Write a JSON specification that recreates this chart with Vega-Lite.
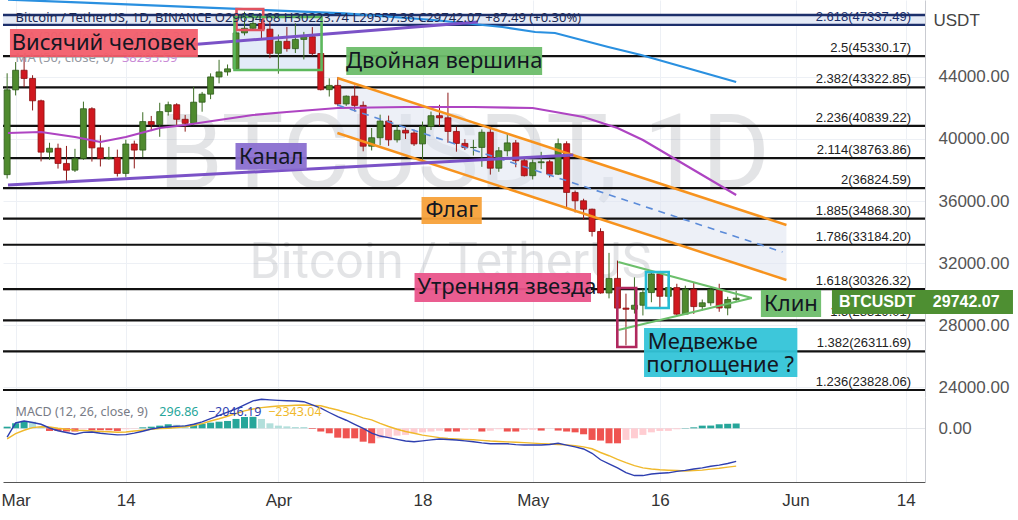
{
"$schema": "https://vega.github.io/schema/vega-lite/v6.json",
"background": "#ffffff",
"padding": 0,
"spacing": 0,
"bounds": "flush",
"config": {"view": {"stroke": null}, "font": "Noto Sans"},
"datasets": {
"candles": [
{"date":"2022-02-28","open":37699,"high":44225,"low":37450,"close":43160},
{"date":"2022-03-01","open":43160,"high":44950,"low":42800,"close":44421},
{"date":"2022-03-02","open":44421,"high":45400,"low":43330,"close":43892},
{"date":"2022-03-03","open":43892,"high":44100,"low":41832,"close":42454},
{"date":"2022-03-04","open":42454,"high":42527,"low":38550,"close":39148},
{"date":"2022-03-05","open":39148,"high":39750,"low":38650,"close":39397},
{"date":"2022-03-06","open":39397,"high":39693,"low":38088,"close":38420},
{"date":"2022-03-07","open":38420,"high":39547,"low":37155,"close":37988},
{"date":"2022-03-08","open":37988,"high":39362,"low":37867,"close":38730},
{"date":"2022-03-09","open":38730,"high":42400,"low":38650,"close":41942},
{"date":"2022-03-10","open":41942,"high":42040,"low":38540,"close":39422},
{"date":"2022-03-11","open":39422,"high":40236,"low":38224,"close":38730},
{"date":"2022-03-12","open":38730,"high":39486,"low":38660,"close":38807},
{"date":"2022-03-13","open":38807,"high":39310,"low":37578,"close":37777},
{"date":"2022-03-14","open":37777,"high":39947,"low":37555,"close":39671},
{"date":"2022-03-15","open":39671,"high":39887,"low":38098,"close":39280},
{"date":"2022-03-16","open":39280,"high":41718,"low":38828,"close":41114},
{"date":"2022-03-17","open":41114,"high":41478,"low":40500,"close":40917},
{"date":"2022-03-18","open":40917,"high":42325,"low":40135,"close":41757},
{"date":"2022-03-19","open":41757,"high":42400,"low":41499,"close":42201},
{"date":"2022-03-20","open":42201,"high":42296,"low":40911,"close":41262},
{"date":"2022-03-21","open":41262,"high":41544,"low":40467,"close":41002},
{"date":"2022-03-22","open":41002,"high":43361,"low":40875,"close":42364},
{"date":"2022-03-23","open":42364,"high":43025,"low":41751,"close":42882},
{"date":"2022-03-24","open":42882,"high":44220,"low":42560,"close":43991},
{"date":"2022-03-25","open":43991,"high":45094,"low":43579,"close":44313},
{"date":"2022-03-26","open":44313,"high":44792,"low":44071,"close":44511},
{"date":"2022-03-27","open":44511,"high":46999,"low":44421,"close":46827},
{"date":"2022-03-28","open":46827,"high":48189,"low":46663,"close":47122},
{"date":"2022-03-29","open":47122,"high":48096,"low":46950,"close":47434},
{"date":"2022-03-30","open":47434,"high":47700,"low":46445,"close":47067},
{"date":"2022-03-31","open":47067,"high":47600,"low":45200,"close":45510},
{"date":"2022-04-01","open":45510,"high":46720,"low":44200,"close":46283},
{"date":"2022-04-02","open":46283,"high":47213,"low":45620,"close":45811},
{"date":"2022-04-03","open":45811,"high":47444,"low":45530,"close":46407},
{"date":"2022-04-04","open":46407,"high":46890,"low":45118,"close":46580},
{"date":"2022-04-05","open":46580,"high":47200,"low":45353,"close":45498},
{"date":"2022-04-06","open":45498,"high":45507,"low":43121,"close":43170},
{"date":"2022-04-07","open":43170,"high":43900,"low":42727,"close":43445},
{"date":"2022-04-08","open":43445,"high":43970,"low":42107,"close":42252},
{"date":"2022-04-09","open":42252,"high":42800,"low":42125,"close":42753},
{"date":"2022-04-10","open":42753,"high":43433,"low":41768,"close":42158},
{"date":"2022-04-11","open":42158,"high":42414,"low":39200,"close":39530},
{"date":"2022-04-12","open":39530,"high":40700,"low":39254,"close":40074},
{"date":"2022-04-13","open":40074,"high":41561,"low":39588,"close":41147},
{"date":"2022-04-14","open":41147,"high":41500,"low":39551,"close":39942},
{"date":"2022-04-15","open":39942,"high":40870,"low":39767,"close":40552},
{"date":"2022-04-16","open":40552,"high":40709,"low":39991,"close":40378},
{"date":"2022-04-17","open":40378,"high":40595,"low":39546,"close":39678},
{"date":"2022-04-18","open":39678,"high":41116,"low":38536,"close":40801},
{"date":"2022-04-19","open":40801,"high":41760,"low":40571,"close":41493},
{"date":"2022-04-20","open":41493,"high":42199,"low":40820,"close":41358},
{"date":"2022-04-21","open":41358,"high":42976,"low":39751,"close":40480},
{"date":"2022-04-22","open":40480,"high":40795,"low":39177,"close":39709},
{"date":"2022-04-23","open":39709,"high":39980,"low":39285,"close":39441},
{"date":"2022-04-24","open":39441,"high":39940,"low":38929,"close":39450},
{"date":"2022-04-25","open":39450,"high":40616,"low":38200,"close":40426},
{"date":"2022-04-26","open":40426,"high":40797,"low":37702,"close":38112},
{"date":"2022-04-27","open":38112,"high":39474,"low":37881,"close":39235},
{"date":"2022-04-28","open":39235,"high":40372,"low":38881,"close":39742},
{"date":"2022-04-29","open":39742,"high":39925,"low":38175,"close":38596},
{"date":"2022-04-30","open":38596,"high":38795,"low":37578,"close":37630},
{"date":"2022-05-01","open":37630,"high":38675,"low":37386,"close":38468},
{"date":"2022-05-02","open":38468,"high":39167,"low":38052,"close":38525},
{"date":"2022-05-03","open":38525,"high":38651,"low":37517,"close":37729},
{"date":"2022-05-04","open":37729,"high":40023,"low":37671,"close":39690},
{"date":"2022-05-05","open":39690,"high":39845,"low":35571,"close":36552},
{"date":"2022-05-06","open":36552,"high":36675,"low":35258,"close":36013},
{"date":"2022-05-07","open":36013,"high":36146,"low":34785,"close":35472},
{"date":"2022-05-08","open":35472,"high":35510,"low":33713,"close":34038},
{"date":"2022-05-09","open":34038,"high":34243,"low":30033,"close":30076},
{"date":"2022-05-10","open":30076,"high":32659,"low":29730,"close":31017},
{"date":"2022-05-11","open":31017,"high":32162,"low":27785,"close":29103},
{"date":"2022-05-12","open":29103,"high":30033,"low":26700,"close":29029},
{"date":"2022-05-13","open":29029,"high":31083,"low":28751,"close":29287},
{"date":"2022-05-14","open":29287,"high":30343,"low":28630,"close":30101},
{"date":"2022-05-15","open":30101,"high":31460,"low":29480,"close":31305},
{"date":"2022-05-16","open":31305,"high":31305,"low":29075,"close":29863},
{"date":"2022-05-17","open":29863,"high":31000,"low":29535,"close":30425},
{"date":"2022-05-18","open":30425,"high":30670,"low":28654,"close":28715},
{"date":"2022-05-19","open":28715,"high":30545,"low":28691,"close":30319},
{"date":"2022-05-20","open":30319,"high":30777,"low":28730,"close":29201},
{"date":"2022-05-21","open":29201,"high":29655,"low":28947,"close":29445},
{"date":"2022-05-22","open":29445,"high":30487,"low":29255,"close":30293},
{"date":"2022-05-23","open":30293,"high":30670,"low":28866,"close":29109},
{"date":"2022-05-24","open":29109,"high":29835,"low":28642,"close":29655},
{"date":"2022-05-25","open":29654.68,"high":30223.74,"low":29557.36,"close":29742.07}
],
"macd": [
{"date":"2022-02-28","macd":-540,"signal":-650,"hist":100},
{"date":"2022-03-01","macd":330,"signal":-330,"hist":310},
{"date":"2022-03-02","macd":450,"signal":-120,"hist":455},
{"date":"2022-03-03","macd":360,"signal":40,"hist":400},
{"date":"2022-03-04","macd":250,"signal":95,"hist":100},
{"date":"2022-03-05","macd":20,"signal":80,"hist":-165},
{"date":"2022-03-06","macd":-150,"signal":0,"hist":-165},
{"date":"2022-03-07","macd":-260,"signal":-60,"hist":-200},
{"date":"2022-03-08","macd":-370,"signal":-110,"hist":-200},
{"date":"2022-03-09","macd":-250,"signal":-140,"hist":-60},
{"date":"2022-03-10","macd":-230,"signal":-165,"hist":-120},
{"date":"2022-03-11","macd":-310,"signal":-195,"hist":-120},
{"date":"2022-03-12","macd":-360,"signal":-215,"hist":-120},
{"date":"2022-03-13","macd":-410,"signal":-245,"hist":-165},
{"date":"2022-03-14","macd":-390,"signal":-230,"hist":-60},
{"date":"2022-03-15","macd":-300,"signal":-170,"hist":-30},
{"date":"2022-03-16","macd":-180,"signal":-120,"hist":60},
{"date":"2022-03-17","macd":-40,"signal":-60,"hist":100},
{"date":"2022-03-18","macd":40,"signal":-20,"hist":165},
{"date":"2022-03-19","macd":90,"signal":0,"hist":250},
{"date":"2022-03-20","macd":130,"signal":50,"hist":220},
{"date":"2022-03-21","macd":150,"signal":100,"hist":200},
{"date":"2022-03-22","macd":250,"signal":170,"hist":250},
{"date":"2022-03-23","macd":400,"signal":290,"hist":290},
{"date":"2022-03-24","macd":600,"signal":450,"hist":350},
{"date":"2022-03-25","macd":800,"signal":590,"hist":410},
{"date":"2022-03-26","macd":1000,"signal":750,"hist":455},
{"date":"2022-03-27","macd":1200,"signal":920,"hist":580},
{"date":"2022-03-28","macd":1450,"signal":1080,"hist":700},
{"date":"2022-03-29","macd":1700,"signal":1200,"hist":710},
{"date":"2022-03-30","macd":1800,"signal":1280,"hist":580},
{"date":"2022-03-31","macd":1760,"signal":1340,"hist":310},
{"date":"2022-04-01","macd":1730,"signal":1380,"hist":165},
{"date":"2022-04-02","macd":1710,"signal":1400,"hist":120},
{"date":"2022-04-03","macd":1690,"signal":1430,"hist":80},
{"date":"2022-04-04","macd":1650,"signal":1445,"hist":80},
{"date":"2022-04-05","macd":1450,"signal":1420,"hist":-40},
{"date":"2022-04-06","macd":1250,"signal":1400,"hist":-200},
{"date":"2022-04-07","macd":980,"signal":1260,"hist":-310},
{"date":"2022-04-08","macd":720,"signal":1135,"hist":-580},
{"date":"2022-04-09","macd":500,"signal":980,"hist":-620},
{"date":"2022-04-10","macd":250,"signal":830,"hist":-620},
{"date":"2022-04-11","macd":0,"signal":650,"hist":-830},
{"date":"2022-04-12","macd":-300,"signal":520,"hist":-930},
{"date":"2022-04-13","macd":-480,"signal":300,"hist":-620},
{"date":"2022-04-14","macd":-580,"signal":110,"hist":-580},
{"date":"2022-04-15","macd":-690,"signal":-60,"hist":-455},
{"date":"2022-04-16","macd":-790,"signal":-200,"hist":-410},
{"date":"2022-04-17","macd":-830,"signal":-310,"hist":-310},
{"date":"2022-04-18","macd":-780,"signal":-420,"hist":-250},
{"date":"2022-04-19","macd":-720,"signal":-500,"hist":-200},
{"date":"2022-04-20","macd":-660,"signal":-580,"hist":-150},
{"date":"2022-04-21","macd":-690,"signal":-630,"hist":-200},
{"date":"2022-04-22","macd":-725,"signal":-663,"hist":-200},
{"date":"2022-04-23","macd":-780,"signal":-690,"hist":-100},
{"date":"2022-04-24","macd":-830,"signal":-707,"hist":-90},
{"date":"2022-04-25","macd":-900,"signal":-750,"hist":-200},
{"date":"2022-04-26","macd":-955,"signal":-790,"hist":-150},
{"date":"2022-04-27","macd":-955,"signal":-815,"hist":-60},
{"date":"2022-04-28","macd":-960,"signal":-840,"hist":-200},
{"date":"2022-04-29","macd":-1010,"signal":-860,"hist":-200},
{"date":"2022-04-30","macd":-1035,"signal":-890,"hist":-100},
{"date":"2022-05-01","macd":-1035,"signal":-920,"hist":-90},
{"date":"2022-05-02","macd":-1035,"signal":-950,"hist":-140},
{"date":"2022-05-03","macd":-1000,"signal":-970,"hist":-20},
{"date":"2022-05-04","macd":-930,"signal":-1000,"hist":-140},
{"date":"2022-05-05","macd":-1040,"signal":-1030,"hist":-200},
{"date":"2022-05-06","macd":-1150,"signal":-1080,"hist":-250},
{"date":"2022-05-07","macd":-1280,"signal":-1150,"hist":-370},
{"date":"2022-05-08","macd":-1550,"signal":-1270,"hist":-720},
{"date":"2022-05-09","macd":-1950,"signal":-1500,"hist":-760},
{"date":"2022-05-10","macd":-2200,"signal":-1700,"hist":-930},
{"date":"2022-05-11","macd":-2450,"signal":-1930,"hist":-930},
{"date":"2022-05-12","macd":-2750,"signal":-2130,"hist":-720},
{"date":"2022-05-13","macd":-2930,"signal":-2310,"hist":-620},
{"date":"2022-05-14","macd":-2930,"signal":-2450,"hist":-410},
{"date":"2022-05-15","macd":-2830,"signal":-2520,"hist":-250},
{"date":"2022-05-16","macd":-2790,"signal":-2570,"hist":-165},
{"date":"2022-05-17","macd":-2760,"signal":-2600,"hist":-160},
{"date":"2022-05-18","macd":-2670,"signal":-2620,"hist":-60},
{"date":"2022-05-19","macd":-2610,"signal":-2645,"hist":20},
{"date":"2022-05-20","macd":-2520,"signal":-2620,"hist":60},
{"date":"2022-05-21","macd":-2450,"signal":-2590,"hist":165},
{"date":"2022-05-22","macd":-2350,"signal":-2530,"hist":170},
{"date":"2022-05-23","macd":-2280,"signal":-2480,"hist":250},
{"date":"2022-05-24","macd":-2180,"signal":-2410,"hist":280},
{"date":"2022-05-25","macd":-2046.19,"signal":-2343.04,"hist":296.86}
],
"fibs": [
{"ratio":2.618,"price":47337.49,"label":"2.618(47337.49)"},
{"ratio":2.5,"price":45330.17,"label":"2.5(45330.17)"},
{"ratio":2.382,"price":43322.85,"label":"2.382(43322.85)"},
{"ratio":2.236,"price":40839.22,"label":"2.236(40839.22)"},
{"ratio":2.114,"price":38763.86,"label":"2.114(38763.86)"},
{"ratio":2,"price":36824.59,"label":"2(36824.59)"},
{"ratio":1.885,"price":34868.30,"label":"1.885(34868.30)"},
{"ratio":1.786,"price":33184.20,"label":"1.786(33184.20)"},
{"ratio":1.618,"price":30326.32,"label":"1.618(30326.32)"},
{"ratio":1.5,"price":28319.01,"label":"1.5(28319.01)"},
{"ratio":1.382,"price":26311.69,"label":"1.382(26311.69)"},
{"ratio":1.236,"price":23828.06,"label":"1.236(23828.06)"}
],
"ma": [
{"ma":"MA 200","date":"2022-02-28T02:26:00Z","value":48970},
{"ma":"MA 200","date":"2022-03-09T02:00:00Z","value":48771},
{"ma":"MA 200","date":"2022-04-08T19:00:00Z","value":48089},
{"ma":"MA 200","date":"2022-04-19T07:00:00Z","value":47657},
{"ma":"MA 200","date":"2022-04-27T10:00:00Z","value":47206},
{"ma":"MA 200","date":"2022-05-01T07:00:00Z","value":46884},
{"ma":"MA 200","date":"2022-05-03T15:00:00Z","value":46820},
{"ma":"MA 200","date":"2022-05-09T22:00:00Z","value":45918},
{"ma":"MA 200","date":"2022-05-13T19:00:00Z","value":45403},
{"ma":"MA 200","date":"2022-05-25T00:00:00Z","value":43664},
{"ma":"MA 50","date":"2022-02-28T02:26:00Z","value":40380},
{"ma":"MA 50","date":"2022-03-04","value":40445},
{"ma":"MA 50","date":"2022-03-08","value":40122},
{"ma":"MA 50","date":"2022-03-11","value":39800},
{"ma":"MA 50","date":"2022-03-14","value":40122},
{"ma":"MA 50","date":"2022-03-18","value":40702},
{"ma":"MA 50","date":"2022-03-21","value":40895},
{"ma":"MA 50","date":"2022-03-25","value":41217},
{"ma":"MA 50","date":"2022-03-29","value":41539},
{"ma":"MA 50","date":"2022-04-02","value":41732},
{"ma":"MA 50","date":"2022-04-08","value":41990},
{"ma":"MA 50","date":"2022-04-16","value":42054},
{"ma":"MA 50","date":"2022-04-24","value":42054},
{"ma":"MA 50","date":"2022-05-01","value":41990},
{"ma":"MA 50","date":"2022-05-07","value":41410},
{"ma":"MA 50","date":"2022-05-11","value":40702},
{"ma":"MA 50","date":"2022-05-14","value":39929},
{"ma":"MA 50","date":"2022-05-25","value":36387}
],
"drawings": [
{"figure":"Канал","side":"верх","date":"2022-03-17T15:00:00Z","price":45892},
{"figure":"Канал","side":"верх","date":"2022-04-24T12:45:00Z","price":47528},
{"figure":"Канал","side":"низ","date":"2022-02-28T02:26:00Z","price":37031},
{"figure":"Канал","side":"низ","date":"2022-05-05T19:00:00Z","price":38963},
{"figure":"Флаг","side":"верх","date":"2022-04-07T23:00:00Z","price":43922},
{"figure":"Флаг","side":"верх","date":"2022-05-30T22:20:00Z","price":34455},
{"figure":"Флаг","side":"низ","date":"2022-04-07T23:00:00Z","price":40380},
{"figure":"Флаг","side":"низ","date":"2022-05-30T22:20:00Z","price":30913},
{"figure":"Середина флага","side":"середина","date":"2022-04-07T23:00:00Z","price":42183},
{"figure":"Середина флага","side":"середина","date":"2022-05-30T11:00:00Z","price":32716},
{"figure":"Клин","side":"верх","date":"2022-05-11T02:20:00Z","price":32072},
{"figure":"Клин","side":"верх","date":"2022-05-26T20:25:00Z","price":29753},
{"figure":"Клин","side":"низ","date":"2022-05-11T02:20:00Z","price":27693},
{"figure":"Клин","side":"низ","date":"2022-05-26T20:25:00Z","price":29753}
],
"flagFill": [
{"date":"2022-04-07T23:00:00Z","top":43922,"bottom":40380},
{"date":"2022-05-30T22:20:00Z","top":34455,"bottom":30913}
],
"boxes": [
{"pattern":"Висячий человек","start":"2022-03-27T01:25:00Z","end":"2022-03-30T05:00:00Z","top":48365,"bottom":47013},
{"pattern":"Двойная вершина","start":"2022-03-26T19:40:00Z","end":"2022-04-06T02:10:00Z","top":47850,"bottom":44437},
{"pattern":"Утренняя звезда","start":"2022-05-10T23:30:00Z","end":"2022-05-13T05:00:00Z","top":30398,"bottom":26598},
{"pattern":"Медвежье поглощение ?","start":"2022-05-14T08:40:00Z","end":"2022-05-17T01:00:00Z","top":31428,"bottom":29110}
],
"notes": [
{"note":"Висячий человек","start":"2022-02-28T08:00:00Z","end":"2022-03-22T12:00:00Z","top":47077,"bottom":45274},
{"note":"Двойная вершина","start":"2022-04-09T00:15:00Z","end":"2022-05-02T02:40:00Z","top":45918,"bottom":44115},
{"note":"Канал","start":"2022-03-26T22:30:00Z","end":"2022-04-04T08:10:00Z","top":39736,"bottom":38007},
{"note":"Флаг","start":"2022-04-17T21:10:00Z","end":"2022-04-24T23:45:00Z","top":36258,"bottom":34519},
{"note":"Утренняя звезда","start":"2022-04-17T01:25:00Z","end":"2022-05-07T21:00:00Z","top":31364,"bottom":29496},
{"note":"Клин","start":"2022-05-27T22:00:00Z","end":"2022-06-04T00:30:00Z","top":30269,"bottom":28530},
{"note":"Медвежье поглощение ?","start":"2022-05-14T03:10:00Z","end":"2022-06-01T05:15:00Z","top":27822,"bottom":24666}
],
"noteText": [
{"note":"Висячий человек","text":"Висячий человек","date":"2022-03-11T10:05:00Z","price":46176},
{"note":"Двойная вершина","text":"Двойная вершина","date":"2022-04-20T13:25:00Z","price":45017},
{"note":"Канал","text":"Канал","date":"2022-03-31T03:20:00Z","price":38866},
{"note":"Флаг","text":"Флаг","date":"2022-04-21T10:20:00Z","price":35389},
{"note":"Утренняя звезда","text":"Утренняя звезда","date":"2022-04-27T23:20:00Z","price":30430},
{"note":"Клин","text":"Клин","date":"2022-05-31T11:00:00Z","price":29399},
{"note":"Медвежье поглощение ?","text":"Медвежье","date":"2022-05-21T01:40:00Z","price":26920},
{"note":"Медвежье поглощение ?","text":"поглощение ?","date":"2022-05-23T02:50:00Z","price":25439}
],
"legend": [
{"series":"BTCUSDT","text":"Bitcoin / TetherUS, 1D, BINANCE   O29654.68  H30223.74  L29557.36  C29742.07  +87.49 (+0.30%)","date":"2022-03-01T00:00:00Z","price":47786},
{"series":"MA 200 имя","text":"MA (200, close, 0)","date":"2022-03-01T00:00:00Z","price":46562},
{"series":"MA 200","text":"45984.38","date":"2022-03-14T17:00:00Z","price":46562},
{"series":"MA 50 имя","text":"MA (50, close, 0)","date":"2022-03-01T00:00:00Z","price":45210},
{"series":"MA 50","text":"38295.59","date":"2022-03-13T13:00:00Z","price":45210}
],
"tag": [
{"symbol":"BTCUSDT","start":"2022-06-05T07:12:00Z","end":"2022-06-26T15:40:00Z","top":30269,"bottom":28724}
],
"tagText": [
{"text":"BTCUSDT","date":"2022-06-06T02:50:00Z","price":29496},
{"text":"29742.07","date":"2022-06-17T04:50:00Z","price":29496}
],
"macdLegend": [
{"series":"имя","text":"MACD (12, 26, close, 9)","date":"2022-03-01T00:00:00Z","value":1011},
{"series":"Гистограмма","text":"296.86","date":"2022-03-17T23:00:00Z","value":1011},
{"series":"MACD","text":"−2046.19","date":"2022-03-23T16:20:00Z","value":1011},
{"series":"Сигнал","text":"−2343.04","date":"2022-03-30T19:00:00Z","value":1011}
]
},
"vconcat": [
{
"width": 922,
"height": 397,
"resolve": {"scale": {"color": "independent"}},
"layer": [
{
"data": {"values": [{"lower": 47337.49, "upper": 47981}]},
"mark": {"type": "rect", "color": "#e4eaf6"},
"encoding": {
"y": {"field": "lower", "type": "quantitative", "scale": {"domain": [23378, 48945], "nice": false, "zero": false}, "axis": {"orient": "right", "values": [24000, 28000, 32000, 36000, 40000, 44000], "format": ".2f", "grid": true, "gridColor": "#edf0f5", "ticks": false, "domainColor": "#c9cbd1", "labelPadding": 13, "labelFontSize": 17, "labelColor": "#555555", "labelFont": "Liberation Sans", "title": "USDT", "titleAngle": 0, "titleAlign": "left", "titleBaseline": "alphabetic", "titleX": 8, "titleY": 25, "titleFontSize": 17, "titleFontWeight": "normal", "titleColor": "#444444", "titleFont": "Liberation Sans"}},
"y2": {"field": "upper"}
}
},
{
"data": {"values": [{"text": "BTCUSDT, 1D", "date": "2022-04-22T21:30:00Z", "price": 36838}]},
"mark": {"type": "text", "font": "Roboto", "fontSize": 104, "color": "#787b86", "opacity": 0.2, "align": "center", "baseline": "alphabetic"},
"encoding": {
"x": {"field": "date", "type": "temporal", "scale": {"type": "utc", "domain": [{"year":2022,"month":2,"date":28,"hours":2,"minutes":26,"utc":true},{"year":2022,"month":6,"date":15,"hours":16,"minutes":28,"utc":true}]}, "axis": {"values": [{"year":2022,"month":3,"date":1,"utc":true},{"year":2022,"month":3,"date":14,"utc":true},{"year":2022,"month":4,"date":1,"utc":true},{"year":2022,"month":4,"date":18,"utc":true},{"year":2022,"month":5,"date":1,"utc":true},{"year":2022,"month":5,"date":16,"utc":true},{"year":2022,"month":6,"date":1,"utc":true},{"year":2022,"month":6,"date":14,"utc":true}], "labels": false, "ticks": false, "domain": false, "grid": true, "gridColor": "#edf0f5", "title": null}},
"y": {"field": "price", "type": "quantitative"},
"text": {"field": "text"}
}
},
{
"data": {"values": [{"text": "Bitcoin / TetherUS", "date": "2022-04-21T07:00:00Z", "price": 31042}]},
"mark": {"type": "text", "font": "Roboto", "fontSize": 50, "color": "#787b86", "opacity": 0.2, "align": "center", "baseline": "alphabetic"},
"encoding": {
"x": {"field": "date", "type": "temporal"},
"y": {"field": "price", "type": "quantitative"},
"text": {"field": "text"}
}
},
{
"data": {"name": "flagFill"},
"mark": {"type": "area", "color": "#dfe3f0", "opacity": 0.55, "clip": true},
"encoding": {
"x": {"field": "date", "type": "temporal"},
"y": {"field": "top", "type": "quantitative"},
"y2": {"field": "bottom"}
}
},
{
"data": {"name": "boxes"},
"transform": [{"filter": "datum.pattern == 'Двойная вершина'"}],
"mark": {"type": "rect", "color": "#dce6f6", "opacity": 0.8, "clip": true},
"encoding": {
"x": {"field": "start", "type": "temporal"},
"x2": {"field": "end"},
"y": {"field": "top", "type": "quantitative"},
"y2": {"field": "bottom"}
}
},
{
"data": {"name": "fibs"},
"mark": {"type": "rule", "strokeWidth": 2.2},
"encoding": {
"y": {"field": "price", "type": "quantitative"},
"color": {"condition": {"test": "datum.ratio == 2.618", "value": "#1c2f6b"}, "value": "#111111"}
}
},
{
"data": {"values": [{"level": 47981}]},
"mark": {"type": "rule", "strokeWidth": 2.5, "color": "#1c2f6b"},
"encoding": {
"y": {"field": "level", "type": "quantitative"}
}
},
{
"data": {"name": "candles"},
"mark": {"type": "rule", "strokeWidth": 1, "clip": true},
"encoding": {
"x": {"field": "date", "type": "temporal"},
"y": {"field": "low", "type": "quantitative"},
"y2": {"field": "high"},
"color": {"condition": {"test": "datum.close >= datum.open", "value": "#3d6e25"}, "value": "#8e1818"}
}
},
{
"data": {"name": "candles"},
"mark": {"type": "bar", "size": 6, "clip": true, "strokeWidth": 0.8},
"encoding": {
"x": {"field": "date", "type": "temporal"},
"y": {"field": "open", "type": "quantitative"},
"y2": {"field": "close"},
"color": {"condition": {"test": "datum.close >= datum.open", "value": "#4f8a2e"}, "value": "#d0181f"},
"stroke": {"condition": {"test": "datum.close >= datum.open", "value": "#2f5a1a"}, "value": "#8c1010"}
}
},
{
"data": {"name": "ma"},
"mark": {"type": "line", "strokeWidth": 2.2, "clip": true},
"encoding": {
"x": {"field": "date", "type": "temporal"},
"y": {"field": "value", "type": "quantitative"},
"color": {"field": "ma", "type": "nominal", "scale": {"domain": ["MA 200", "MA 50"], "range": ["#2a90e0", "#ae44c2"]}, "legend": null}
}
},
{
"data": {"name": "drawings"},
"transform": [{"filter": "datum.figure == 'Флаг'"}],
"mark": {"type": "line", "strokeWidth": 2.5, "color": "#f7931e", "clip": true},
"encoding": {
"x": {"field": "date", "type": "temporal"},
"y": {"field": "price", "type": "quantitative"},
"detail": {"field": "side"}
}
},
{
"data": {"name": "drawings"},
"transform": [{"filter": "datum.figure == 'Середина флага'"}],
"mark": {"type": "line", "strokeWidth": 1.6, "color": "#5b8bd9", "strokeDash": [7, 6], "clip": true},
"encoding": {
"x": {"field": "date", "type": "temporal"},
"y": {"field": "price", "type": "quantitative"}
}
},
{
"data": {"name": "drawings"},
"transform": [{"filter": "datum.figure == 'Канал'"}],
"mark": {"type": "line", "strokeWidth": 3, "color": "#7b52c7", "clip": true},
"encoding": {
"x": {"field": "date", "type": "temporal"},
"y": {"field": "price", "type": "quantitative"},
"detail": {"field": "side"}
}
},
{
"data": {"name": "drawings"},
"transform": [{"filter": "datum.figure == 'Клин'"}],
"mark": {"type": "line", "strokeWidth": 2.2, "color": "#6cbf6b", "clip": true},
"encoding": {
"x": {"field": "date", "type": "temporal"},
"y": {"field": "price", "type": "quantitative"},
"detail": {"field": "side"}
}
},
{
"data": {"name": "boxes"},
"mark": {"type": "rect", "filled": false, "strokeWidth": 2.6, "clip": true},
"encoding": {
"x": {"field": "start", "type": "temporal"},
"x2": {"field": "end"},
"y": {"field": "top", "type": "quantitative"},
"y2": {"field": "bottom"},
"color": {"field": "pattern", "type": "nominal", "scale": {"domain": ["Висячий человек", "Двойная вершина", "Утренняя звезда", "Медвежье поглощение ?"], "range": ["#e0525f", "#5cb85c", "#b0285e", "#26bcd4"]}, "legend": null}
}
},
{
"data": {"name": "legend"},
"mark": {"type": "text", "align": "left", "baseline": "middle", "fontSize": 13, "font": "Noto Sans"},
"encoding": {
"x": {"field": "date", "type": "temporal"},
"y": {"field": "price", "type": "quantitative"},
"text": {"field": "text"},
"color": {"field": "series", "type": "nominal", "scale": {"domain": ["BTCUSDT", "MA 200 имя", "MA 200", "MA 50 имя", "MA 50"], "range": ["#1e2a55", "#9598a1", "#6fb3ee", "#9598a1", "#c98bd6"]}, "legend": null}
}
},
{
"data": {"name": "fibs"},
"mark": {"type": "text", "align": "right", "baseline": "bottom", "dy": -1, "fontSize": 13, "font": "Liberation Sans"},
"encoding": {
"x": {"datum": {"year":2022,"month":6,"date":14,"hours":15,"minutes":20,"utc":true}, "type": "temporal"},
"y": {"field": "price", "type": "quantitative"},
"text": {"field": "label"},
"color": {"condition": {"test": "datum.ratio == 2.618", "value": "#1c2f6b"}, "value": "#222222"}
}
},
{
"data": {"name": "notes"},
"mark": {"type": "rect", "opacity": 0.95},
"encoding": {
"x": {"field": "start", "type": "temporal"},
"x2": {"field": "end"},
"y": {"field": "top", "type": "quantitative"},
"y2": {"field": "bottom"},
"color": {"field": "note", "type": "nominal", "scale": {"domain": ["Висячий человек", "Двойная вершина", "Канал", "Флаг", "Утренняя звезда", "Клин", "Медвежье поглощение ?"], "range": ["#f25d6a", "#6dbd6a", "#8a6fd0", "#f7a13a", "#e9548a", "#6dbd6a", "#33c4d8"]}, "legend": null}
}
},
{
"data": {"name": "noteText"},
"mark": {"type": "text", "align": "center", "baseline": "middle", "fontSize": 22, "font": "Noto Sans", "color": "#131722"},
"encoding": {
"x": {"field": "date", "type": "temporal"},
"y": {"field": "price", "type": "quantitative"},
"text": {"field": "text"}
}
},
{
"data": {"name": "tag"},
"mark": {"type": "rect", "color": "#4e8f32"},
"encoding": {
"x": {"field": "start", "type": "temporal"},
"x2": {"field": "end"},
"y": {"field": "top", "type": "quantitative"},
"y2": {"field": "bottom"}
}
},
{
"data": {"name": "tagText"},
"mark": {"type": "text", "align": "left", "baseline": "middle", "fontSize": 16, "fontWeight": "bold", "font": "Liberation Sans", "color": "#ffffff"},
"encoding": {
"x": {"field": "date", "type": "temporal"},
"y": {"field": "price", "type": "quantitative"},
"text": {"field": "text"}
}
}
]
},
{
"width": 922,
"height": 85,
"layer": [
{
"data": {"name": "macd"},
"transform": [{"window": [{"op": "lag", "field": "hist", "as": "prev"}], "sort": [{"field": "date", "order": "ascending"}]}],
"mark": {"type": "bar", "size": 7, "clip": true},
"encoding": {
"x": {"field": "date", "type": "temporal", "scale": {"type": "utc", "domain": [{"year":2022,"month":2,"date":28,"hours":2,"minutes":26,"utc":true},{"year":2022,"month":6,"date":15,"hours":16,"minutes":28,"utc":true}]}, "axis": {"values": [{"year":2022,"month":3,"date":1,"utc":true},{"year":2022,"month":3,"date":14,"utc":true},{"year":2022,"month":4,"date":1,"utc":true},{"year":2022,"month":4,"date":18,"utc":true},{"year":2022,"month":5,"date":1,"utc":true},{"year":2022,"month":5,"date":16,"utc":true},{"year":2022,"month":6,"date":1,"utc":true},{"year":2022,"month":6,"date":14,"utc":true}], "labelExpr": "utcdate(datum.value) == 1 ? utcFormat(datum.value, '%b') : utcFormat(datum.value, '%d')", "labelFontSize": 17, "labelColor": "#333333", "labelFont": "Liberation Sans", "labelPadding": 10, "labelFlush": 10, "labelFlushOffset": 7, "ticks": false, "domainColor": "#555555", "grid": true, "gridColor": "#edf0f5", "title": null}},
"y": {"field": "hist", "type": "quantitative", "scale": {"domain": [-3329, 1941], "nice": false, "zero": false}, "axis": {"orient": "right", "values": [0], "format": ".2f", "grid": true, "gridColor": "#e4e6ea", "ticks": false, "domainColor": "#c9cbd1", "labelPadding": 13, "labelFontSize": 17, "labelColor": "#555555", "labelFont": "Liberation Sans", "title": null}},
"y2": {"datum": 0},
"color": {"condition": [
{"test": "datum.hist >= 0 && (datum.prev == null || datum.hist > datum.prev)", "value": "#26a69a"},
{"test": "datum.hist >= 0", "value": "#b2dfdb"},
{"test": "datum.prev == null || datum.hist <= datum.prev", "value": "#ef5350"}
], "value": "#ffcdd2"}
}
},
{
"data": {"name": "macd"},
"mark": {"type": "line", "strokeWidth": 1.4, "color": "#f0b92c", "clip": true},
"encoding": {
"x": {"field": "date", "type": "temporal"},
"y": {"field": "signal", "type": "quantitative"}
}
},
{
"data": {"name": "macd"},
"mark": {"type": "line", "strokeWidth": 1.4, "color": "#2e3fb0", "clip": true},
"encoding": {
"x": {"field": "date", "type": "temporal"},
"y": {"field": "macd", "type": "quantitative"}
}
},
{
"data": {"name": "macdLegend"},
"mark": {"type": "text", "align": "left", "baseline": "middle", "fontSize": 12.5, "font": "Noto Sans"},
"encoding": {
"x": {"field": "date", "type": "temporal"},
"y": {"field": "value", "type": "quantitative"},
"text": {"field": "text"},
"color": {"field": "series", "type": "nominal", "scale": {"domain": ["имя", "Гистограмма", "MACD", "Сигнал"], "range": ["#787b86", "#26a69a", "#2e3fb0", "#f0b92c"]}, "legend": null}
}
}
]
}
]
}
